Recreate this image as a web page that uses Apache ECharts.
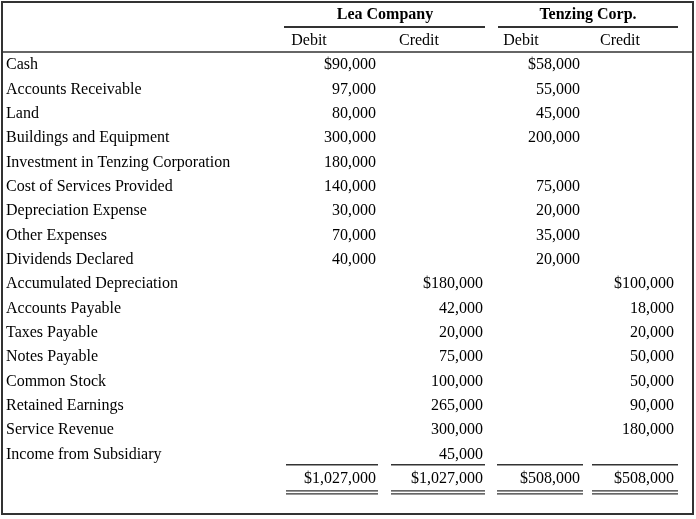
<!DOCTYPE html>
<html><head><meta charset="utf-8">
<script src="https://cdn.jsdelivr.net/npm/echarts@6/dist/echarts.min.js"></script>
<style>html,body{margin:0;padding:0;background:#fff}#c{width:696px;height:519px}</style>
</head><body><div id="c"></div>
<script>
const companies = ['Lea Company', 'Tenzing Corp.'];
const subHeaders = ['Debit', 'Credit', 'Debit', 'Credit'];
const accounts = ['Cash','Accounts Receivable','Land','Buildings and Equipment','Investment in Tenzing Corporation','Cost of Services Provided','Depreciation Expense','Other Expenses','Dividends Declared','Accumulated Depreciation','Accounts Payable','Taxes Payable','Notes Payable','Common Stock','Retained Earnings','Service Revenue','Income from Subsidiary'];
const leaDebit = ['$90,000','97,000','80,000','300,000','180,000','140,000','30,000','70,000','40,000','','','','','','','',''];
const leaCredit = ['','','','','','','','','','$180,000','42,000','20,000','75,000','100,000','265,000','300,000','45,000'];
const tenDebit = ['$58,000','55,000','45,000','200,000','','75,000','20,000','35,000','20,000','','','','','','','',''];
const tenCredit = ['','','','','','','','','','$100,000','18,000','20,000','50,000','50,000','90,000','180,000',''];
const totals = ['$1,027,000','$1,027,000','$508,000','$508,000'];

const rows = accounts.concat(['Total']);
const colRight = [376, 483, 580, 674];
const colLine = [[286,378],[391,485],[497,583],[592,678]];
const FONT = '"Liberation Serif","DejaVu Serif",serif';

const data = [];
accounts.forEach((a, i) => {
  data.push([0, i, a, 'label']);
  [leaDebit, leaCredit, tenDebit, tenCredit].forEach((col, j) => {
    if (col[i]) data.push([j + 1, i, col[i], 'num']);
  });
});
totals.forEach((t, j) => data.push([j + 1, accounts.length, t, 'total']));

const chart = echarts.init(document.getElementById('c'));
chart.setOption({
  animation: false,
  grid: { left: 0, right: 0, top: 53, bottom: 28 },
  xAxis: { type: 'value', min: 0, max: 696, show: false },
  yAxis: { type: 'category', data: rows, inverse: true, show: false },
  graphic: [
    { type: 'rect', shape: { x: 2, y: 2, width: 691, height: 512 }, style: { fill: 'none', stroke: '#333', lineWidth: 2 } },
    { type: 'line', shape: { x1: 2, y1: 52, x2: 693, y2: 52 }, style: { stroke: '#333', lineWidth: 1.5 } },
    { type: 'line', shape: { x1: 284, y1: 27, x2: 485, y2: 27 }, style: { stroke: '#333', lineWidth: 2 } },
    { type: 'line', shape: { x1: 498, y1: 27, x2: 678, y2: 27 }, style: { stroke: '#333', lineWidth: 2 } },
    { type: 'text', style: { x: 385, y: 15, text: companies[0], font: 'bold 16px ' + FONT, fill: '#000', align: 'center', verticalAlign: 'middle' } },
    { type: 'text', style: { x: 588, y: 15, text: companies[1], font: 'bold 16px ' + FONT, fill: '#000', align: 'center', verticalAlign: 'middle' } },
    { type: 'text', style: { x: 309, y: 41, text: subHeaders[0], font: '16px ' + FONT, fill: '#000', align: 'center', verticalAlign: 'middle' } },
    { type: 'text', style: { x: 419, y: 41, text: subHeaders[1], font: '16px ' + FONT, fill: '#000', align: 'center', verticalAlign: 'middle' } },
    { type: 'text', style: { x: 521, y: 41, text: subHeaders[2], font: '16px ' + FONT, fill: '#000', align: 'center', verticalAlign: 'middle' } },
    { type: 'text', style: { x: 620, y: 41, text: subHeaders[3], font: '16px ' + FONT, fill: '#000', align: 'center', verticalAlign: 'middle' } }
  ],
  series: [{
    type: 'custom',
    data: data,
    renderItem: function (params, api) {
      const d = data[params.dataIndex];
      const y = api.coord([0, d[1]])[1];
      if (d[3] === 'label') {
        return { type: 'text', style: { x: 6, y: y, text: d[2], font: '16px ' + FONT, fill: '#000', align: 'left', verticalAlign: 'middle' } };
      }
      const j = d[0] - 1;
      const txt = { type: 'text', style: { x: colRight[j], y: y, text: d[2], font: '16px ' + FONT, fill: '#000', align: 'right', verticalAlign: 'middle' } };
      if (d[3] !== 'total') return txt;
      const [a, b] = colLine[j];
      return { type: 'group', children: [
        txt,
        { type: 'line', shape: { x1: a, y1: y - 14, x2: b, y2: y - 14 }, style: { stroke: '#333', lineWidth: 1.5 } },
        { type: 'line', shape: { x1: a, y1: y + 12, x2: b, y2: y + 12 }, style: { stroke: '#333', lineWidth: 1.2 } },
        { type: 'line', shape: { x1: a, y1: y + 15, x2: b, y2: y + 15 }, style: { stroke: '#333', lineWidth: 1.2 } }
      ] };
    }
  }]
});
</script></body></html>
